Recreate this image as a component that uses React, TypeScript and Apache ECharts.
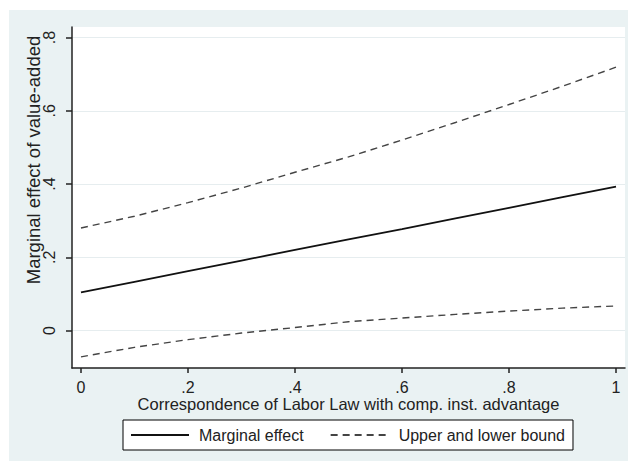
import React, { useEffect, useRef } from "react";
import * as echarts from "echarts";

const xValues = [0, 0.1, 0.2, 0.3, 0.4, 0.5, 0.6, 0.7, 0.8, 0.9, 1];
const marginalEffect = [0.104, 0.133, 0.162, 0.191, 0.22, 0.249, 0.277, 0.306, 0.335, 0.364, 0.393];
const upperBound = [0.28, 0.312, 0.349, 0.389, 0.432, 0.474, 0.52, 0.568, 0.617, 0.667, 0.719];
const lowerBound = [-0.072, -0.046, -0.025, -0.007, 0.008, 0.024, 0.034, 0.044, 0.053, 0.061, 0.067];
const xTicks = [0, 0.2, 0.4, 0.6, 0.8, 1];
const yTicks = [0, 0.2, 0.4, 0.6, 0.8];

const xTitle = "Correspondence of Labor Law with comp. inst. advantage";
const yTitle = "Marginal effect of value-added";
const seriesNames = ["Marginal effect", "Upper and lower bound"];

const FONT = "'Liberation Sans', Arial, Helvetica, sans-serif";

const fmt = (v: number) => {
  if (Math.abs(v) < 1e-9) return "0";
  if (Math.abs(v - 1) < 1e-9) return "1";
  return v.toFixed(1).replace(/^0\./, ".");
};

export default function App() {
  const ref = useRef<HTMLDivElement>(null);
  useEffect(() => {
    if (!ref.current) return;
    const chart = echarts.init(ref.current, undefined, { renderer: "svg" });
    const pairs = (ys: number[]) => xValues.map((x, i) => [x, ys[i]]);
    chart.setOption({
      animation: false,
      backgroundColor: "#ffffff",
      textStyle: { fontFamily: FONT },
      graphic: [
        {
          type: "rect",
          z: -10,
          silent: true,
          shape: { x: 9, y: 10, width: 619, height: 451 },
          style: { fill: "#eaf2f3" },
        },
        {
          type: "text",
          x: 33,
          y: 160,
          rotation: Math.PI / 2,
          style: {
            text: yTitle,
            font: `18.5px ${FONT}`,
            fill: "#222",
            align: "center",
            verticalAlign: "middle",
          },
        },
      ],
      grid: {
        left: 72,
        right: 3,
        top: 27,
        bottom: 93,
        show: true,
        backgroundColor: "#ffffff",
        borderWidth: 0,
      },
      legend: {
        left: 123,
        top: 420,
        orient: "horizontal",
        data: seriesNames,
        itemWidth: 58,
        itemHeight: 14,
        itemGap: 26,
        padding: [7, 8, 7, 7],
        borderColor: "#000",
        borderWidth: 1,
        borderRadius: 0,
        backgroundColor: "#fff",
        itemStyle: { color: "transparent", borderWidth: 0, opacity: 0 },
        textStyle: { fontSize: 16, color: "#222", fontFamily: FONT, padding: [0, 0, 0, 5] },
      },
      xAxis: {
        type: "value",
        min: -0.0168,
        max: 1.0168,
        name: xTitle,
        nameLocation: "middle",
        nameGap: 27,
        nameMoveOverlap: false,
        nameTextStyle: { fontSize: 16.5, color: "#222", fontFamily: FONT },
        axisLine: { show: true, onZero: false, lineStyle: { color: "#222", width: 1.5 } },
        axisTick: { show: true, length: 5, lineStyle: { color: "#222", width: 1.5 }, customValues: xTicks },
        axisLabel: {
          fontSize: 16,
          color: "#222",
          margin: 11,
          customValues: xTicks,
          formatter: (v: number) => fmt(v),
        },
        splitLine: { show: false },
      },
      yAxis: {
        type: "value",
        min: -0.1024,
        max: 0.8287,
        axisLine: { show: true, onZero: false, lineStyle: { color: "#222", width: 1.5 } },
        axisTick: { show: true, length: 6, lineStyle: { color: "#222", width: 1.5 }, customValues: yTicks },
        axisLabel: {
          fontSize: 16,
          color: "#222",
          margin: 15,
          rotate: 90,
          verticalAlign: "bottom",
          align: "center",
          customValues: yTicks,
          formatter: (v: number) => fmt(v),
        },
        splitLine: { show: true, lineStyle: { color: "#e6edef", width: 1 } },
      },
      series: [
        {
          name: seriesNames[0],
          type: "line",
          data: pairs(marginalEffect),
          symbol: "none",
          showSymbol: false,
          lineStyle: { color: "#111", width: 1.8 },
          itemStyle: { color: "#111" },
        },
        {
          name: seriesNames[1],
          type: "line",
          data: pairs(upperBound),
          symbol: "none",
          showSymbol: false,
          lineStyle: { color: "#444", width: 1.4, type: [7, 5] },
          itemStyle: { color: "#444" },
        },
        {
          name: seriesNames[1],
          type: "line",
          data: pairs(lowerBound),
          symbol: "none",
          showSymbol: false,
          lineStyle: { color: "#444", width: 1.4, type: [7, 5] },
          itemStyle: { color: "#444" },
        },
      ],
    });
    return () => chart.dispose();
  }, []);
  return (
    <div
      ref={ref}
      style={{ position: "fixed", left: 0, top: 0, width: 628, height: 461 }}
    />
  );
}
